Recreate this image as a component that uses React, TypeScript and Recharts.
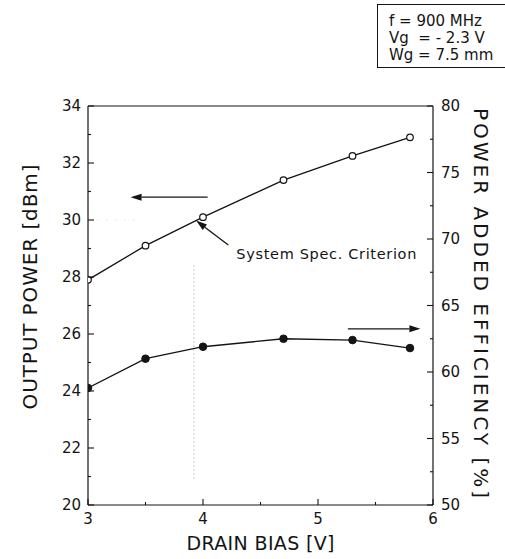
import React from 'react';
import { ComposedChart, Line, XAxis, YAxis, ReferenceLine, ReferenceDot } from 'recharts';

const drainBias = [3, 3.5, 4, 4.7, 5.3, 5.8];
const outputPower = [27.9, 29.1, 30.1, 31.4, 32.25, 32.9];
const paeValues = [58.8, 61.0, 61.9, 62.5, 62.4, 61.8];

const xTicks = [3, 4, 5, 6];
const xMinorTicks = [3.5, 4.5, 5.5];
const leftTicks = [20, 22, 24, 26, 28, 30, 32, 34];
const leftMinorTicks = [21, 23, 25, 27, 29, 31, 33];
const rightTicks = [50, 55, 60, 65, 70, 75, 80];
const rightMinorTicks = [52.5, 57.5, 62.5, 67.5, 72.5, 77.5];

const legendLines = ['f = 900 MHz', 'Vg  = - 2.3 V', 'Wg = 7.5 mm'];
const annotationText = 'System Spec. Criterion';
const xTitle = 'DRAIN BIAS [V]';
const leftTitle = 'OUTPUT POWER [dBm]';
const rightTitle = 'POWER ADDED EFFICIENCY [%]';

const data = drainBias.map((b, i) => ({ bias: b, power: outputPower[i], pae: paeValues[i] }));

const xAll = [...xTicks, ...xMinorTicks].sort((a, b) => a - b);
const leftAll = [...leftTicks, ...leftMinorTicks].sort((a, b) => a - b);
const rightAll = [...rightTicks, ...rightMinorTicks].sort((a, b) => a - b);

const FONT = '"DejaVu Sans", Verdana, sans-serif';
const INK = '#141414';
const TICK_FS = 15;
const MAJOR_LEN = 6;
const MINOR_LEN = 3;

const LeftTick = (p: any) => {
  const v = p.payload.value;
  const major = leftTicks.includes(v);
  const ax = p.x + 9;
  return (
    <g>
      <line x1={ax} y1={p.y} x2={ax + (major ? MAJOR_LEN : MINOR_LEN)} y2={p.y} stroke={INK} strokeWidth={1.1} />
      {major && (
        <text x={p.x + 2} y={p.y} textAnchor="end" dominantBaseline="central" fontFamily={FONT} fontSize={TICK_FS} fill={INK}>
          {v}
        </text>
      )}
    </g>
  );
};

const RightTick = (p: any) => {
  const v = p.payload.value;
  const major = rightTicks.includes(v);
  const ax = p.x - 8;
  return (
    <g>
      <line x1={ax} y1={p.y} x2={ax - (major ? MAJOR_LEN : MINOR_LEN)} y2={p.y} stroke={INK} strokeWidth={1.1} />
      {major && (
        <text x={p.x} y={p.y} textAnchor="start" dominantBaseline="central" fontFamily={FONT} fontSize={TICK_FS} fill={INK}>
          {v}
        </text>
      )}
    </g>
  );
};

const BottomTick = (p: any) => {
  const v = p.payload.value;
  const major = xTicks.includes(v);
  const ay = p.y - 8;
  return (
    <g>
      <line x1={p.x} y1={ay} x2={p.x} y2={ay - (major ? MAJOR_LEN : MINOR_LEN)} stroke={INK} strokeWidth={1.1} />
      {major && (
        <text x={p.x} y={p.y + 6} textAnchor="middle" dominantBaseline="central" fontFamily={FONT} fontSize={TICK_FS} fill={INK}>
          {v}
        </text>
      )}
    </g>
  );
};

const arrowShape = (props: any) => {
  const { x1, y1, x2, y2 } = props;
  const dx = x2 - x1;
  const dy = y2 - y1;
  const len = Math.sqrt(dx * dx + dy * dy) || 1;
  const ux = dx / len;
  const uy = dy / len;
  const hl = 11;
  const hw = 3.5;
  const bx = x2 - ux * hl;
  const by = y2 - uy * hl;
  const pts = `${x2},${y2} ${bx - uy * hw},${by + ux * hw} ${bx + uy * hw},${by - ux * hw}`;
  return (
    <g>
      <line x1={x1} y1={y1} x2={bx} y2={by} stroke={INK} strokeWidth={1.3} />
      <polygon points={pts} fill={INK} />
    </g>
  );
};

const annotationShape = (props: any) => (
  <text
    x={props.cx}
    y={props.cy}
    dominantBaseline="central"
    fontFamily={FONT}
    fontSize={14.5}
    fill={INK}
    textLength={180}
    lengthAdjust="spacing"
  >
    {annotationText}
  </text>
);

export default function App() {
  return (
    <div style={{ position: 'absolute', left: 0, top: 0, width: 505, height: 559, background: '#fff', overflow: 'hidden' }}>
      <ComposedChart
        width={505}
        height={559}
        data={data}
        margin={{ top: 106, right: 0, bottom: 0, left: 0 }}
        style={{ fontFamily: FONT }}
      >
        <XAxis
          dataKey="bias"
          type="number"
          domain={[3, 6]}
          ticks={xAll}
          interval={0}
          allowDataOverflow
          height={54}
          tickLine={false}
          tickSize={0}
          tickMargin={8}
          axisLine={{ stroke: INK, strokeWidth: 1.2 }}
          tick={BottomTick}
          label={{
            content: (p: any) => {
              const vb = p.viewBox;
              return (
                <text
                  x={vb.x + vb.width / 2}
                  y={543}
                  textAnchor="middle"
                  dominantBaseline="central"
                  fontFamily={FONT}
                  fontSize={19}
                  fill={INK}
                  textLength={148}
                  lengthAdjust="spacing"
                >
                  {xTitle}
                </text>
              );
            },
          }}
        />
        <YAxis
          yAxisId="left"
          type="number"
          domain={[20, 34]}
          ticks={leftAll}
          interval={0}
          allowDataOverflow
          width={88}
          tickLine={false}
          tickSize={0}
          tickMargin={9}
          axisLine={{ stroke: INK, strokeWidth: 1.2 }}
          tick={LeftTick}
          label={{
            content: () => {
              const cx = 30;
              const cy = 287;
              return (
                <text
                  x={cx}
                  y={cy}
                  transform={`rotate(-90 ${cx} ${cy})`}
                  textAnchor="middle"
                  dominantBaseline="central"
                  fontFamily={FONT}
                  fontSize={20}
                  fill={INK}
                  textLength={245}
                  lengthAdjust="spacing"
                >
                  {leftTitle}
                </text>
              );
            },
          }}
        />
        <YAxis
          yAxisId="right"
          orientation="right"
          type="number"
          domain={[50, 80]}
          ticks={rightAll}
          interval={0}
          allowDataOverflow
          width={72}
          tickLine={false}
          tickSize={0}
          tickMargin={8}
          axisLine={{ stroke: INK, strokeWidth: 1.2 }}
          tick={RightTick}
          label={{
            content: () => {
              const cx = 481;
              const cy = 303;
              return (
                <text
                  x={cx}
                  y={cy}
                  transform={`rotate(90 ${cx} ${cy})`}
                  textAnchor="middle"
                  dominantBaseline="central"
                  fontFamily={FONT}
                  fontSize={20}
                  fill={INK}
                  textLength={390}
                  lengthAdjust="spacing"
                >
                  {rightTitle}
                </text>
              );
            },
          }}
        />

        <ReferenceLine yAxisId="left" y={34} stroke={INK} strokeWidth={1.2} />

        <ReferenceLine
          yAxisId="left"
          segment={[{ x: 3.92, y: 28.4 }, { x: 3.92, y: 20.9 }]}
          stroke="#9a9a9a"
          strokeWidth={1}
          strokeDasharray="1 3"
        />
        <ReferenceLine
          yAxisId="left"
          segment={[{ x: 3.08, y: 30 }, { x: 3.42, y: 30 }]}
          stroke="#d0d0d0"
          strokeWidth={1}
          strokeDasharray="1 8"
        />

        <ReferenceLine
          yAxisId="left"
          segment={[{ x: 4.04, y: 30.8 }, { x: 3.37, y: 30.8 }]}
          shape={arrowShape}
        />
        <ReferenceLine
          yAxisId="left"
          segment={[{ x: 5.26, y: 26.18 }, { x: 5.89, y: 26.18 }]}
          shape={arrowShape}
        />
        <ReferenceLine
          yAxisId="left"
          segment={[{ x: 4.22, y: 29.12 }, { x: 3.94, y: 29.98 }]}
          shape={arrowShape}
        />
        <ReferenceDot yAxisId="left" x={4.29} y={28.8} r={0} shape={annotationShape} />

        <Line
          yAxisId="left"
          dataKey="power"
          type="linear"
          stroke={INK}
          strokeWidth={1.3}
          dot={{ r: 3.3, fill: '#fff', stroke: INK, strokeWidth: 1.2 }}
          activeDot={false}
          isAnimationActive={false}
        />
        <Line
          yAxisId="right"
          dataKey="pae"
          type="linear"
          stroke={INK}
          strokeWidth={1.3}
          dot={{ r: 3.8, fill: INK, stroke: INK, strokeWidth: 1 }}
          activeDot={false}
          isAnimationActive={false}
        />
      </ComposedChart>
      <div
        style={{
          position: 'absolute',
          left: 377,
          top: 4,
          width: 128,
          height: 64,
          boxSizing: 'border-box',
          borderTop: '1.5px solid #141414',
          borderLeft: '1px solid #141414',
          borderBottom: '1px solid #141414',
          padding: '8px 0 0 11px',
          fontFamily: FONT,
          fontSize: 15,
          lineHeight: '17px',
          color: INK,
          whiteSpace: 'pre',
        }}
      >
        {legendLines.map((t) => (
          <div key={t}>{t}</div>
        ))}
      </div>
    </div>
  );
}
